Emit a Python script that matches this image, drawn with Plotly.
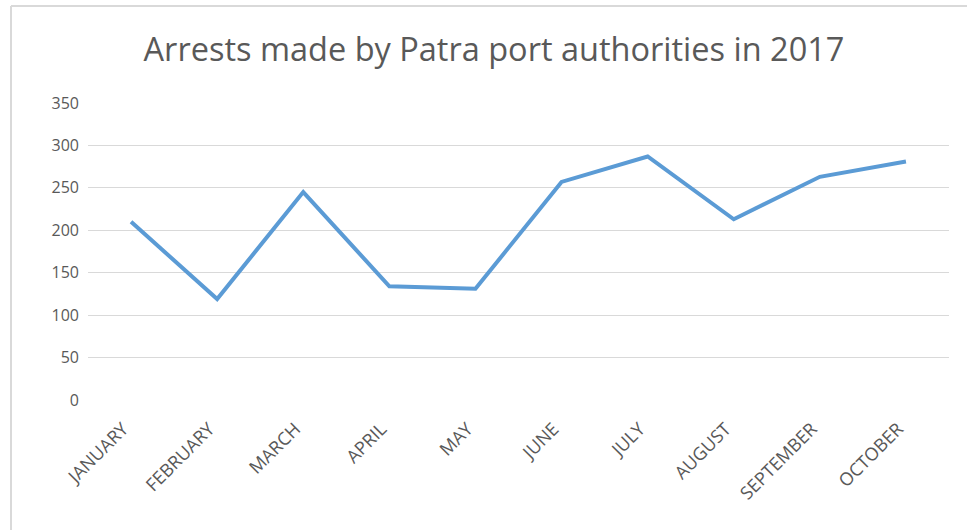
import plotly.graph_objects as go

# Datos
meses = ['JANUARY', 'FEBRUARY', 'MARCH', 'APRIL', 'MAY', 'JUNE',
         'JULY', 'AUGUST', 'SEPTEMBER', 'OCTOBER']
arrestos = [210, 119, 245, 134, 131, 257, 287, 213, 263, 281]
ticks_y = [0, 50, 100, 150, 200, 250, 300, 350]

W, H = 967, 530
L, R, T, B = 88, 18, 103, 130
pw, ph = W - L - R, H - T - B


def px_x(x):
    return (x - L) / pw


def px_y(y):
    return (H - B - y) / ph


fig = go.Figure()

fig.add_trace(go.Scatter(
    x=meses,
    y=arrestos,
    mode='lines',
    line=dict(color='#5B9BD5', width=4),
    name='Arrests',
    showlegend=False
))

# Borde del área del gráfico (estilo Excel)
borde = dict(color='#d9d9d9', width=2)
fig.add_shape(type='line', xref='paper', yref='paper',
              x0=px_x(11), x1=px_x(W + 2), y0=px_y(6), y1=px_y(6), line=borde)
fig.add_shape(type='line', xref='paper', yref='paper',
              x0=px_x(11), x1=px_x(11), y0=px_y(6), y1=px_y(H + 2), line=borde)

fig.update_layout(
    width=W,
    height=H,
    margin=dict(l=L, r=R, t=T, b=B, autoexpand=False),
    paper_bgcolor='white',
    plot_bgcolor='white',
    font=dict(family='Open Sans', color='#595959', size=15),
    title=dict(
        text='Arrests made by Patra port authorities in 2017',
        x=494 / W,
        xanchor='center',
        y=1 - 50 / H,
        yanchor='middle',
        font=dict(family='Open Sans', size=32.5, color='#595959')
    ),
    xaxis=dict(
        type='category',
        range=[-0.5, len(meses) - 0.5],
        tickangle=-45,
        showgrid=False,
        showline=False,
        zeroline=False,
        ticks='',
        automargin=False,
        ticklabelstandoff=14,
        ticklabelshift=-8,
        tickfont=dict(size=18, color='#595959')
    ),
    yaxis=dict(
        range=[0, 350],
        tickvals=ticks_y,
        showgrid=True,
        gridcolor='#d9d9d9',
        gridwidth=1,
        zeroline=False,
        showline=False,
        ticks='',
        automargin=False,
        ticklabelstandoff=8,
        tickfont=dict(size=16, color='#595959')
    )
)

fig.write_html('out.html', config={'displayModeBar': False},
               post_script="document.body.style.margin='0';")
